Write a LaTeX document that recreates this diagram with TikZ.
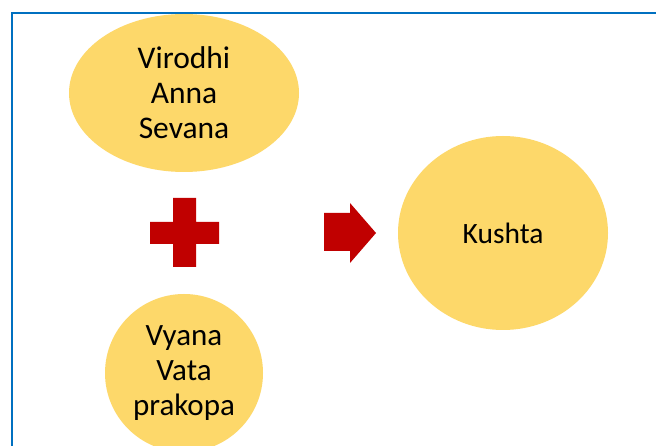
\documentclass[tikz,border=0pt]{standalone}
\usepackage{fontspec}
\setmainfont{Carlito}
\usetikzlibrary{shapes.geometric}
\definecolor{bubble}{HTML}{FDD86A}
\definecolor{sign}{HTML}{C00000}
\definecolor{frame}{HTML}{0070C0}
\tikzset{
  bubblenode/.style={ellipse, fill=bubble, draw=none, inner sep=0pt, align=center, text=black},
  signshape/.style={fill=sign, draw=none}
}
\begin{document}
\begin{tikzpicture}[x=1pt,y=-1pt]
\useasboundingbox (0,0) rectangle (656,446);
\clip (0,0) rectangle (656,446);
\fill[white] (0,0) rectangle (656,446);
\draw[frame, line width=2pt] (12,13) rectangle (670,460);
\node[bubblenode, minimum width=230pt, minimum height=158pt, font=\fontsize{31.5}{35}\selectfont] (virodhi) at (184,93) {Virodhi\\Anna\\Sevana};
\node[bubblenode, minimum width=158pt, minimum height=158pt, font=\fontsize{31}{35}\selectfont] (vyana) at (184,373) {Vyana\\Vata\\prakopa};
\node[bubblenode, minimum width=210pt, minimum height=194pt, font=\fontsize{29.5}{35}\selectfont] (kushta) at (503,233) {Kushta};
\fill[signshape] (173,198) -- (196,198) -- (196,222) -- (219,222) -- (219,244) -- (196,244) -- (196,267) -- (173,267) -- (173,244) -- (150,244) -- (150,222) -- (173,222) -- cycle;
\fill[signshape] (324,213) -- (350,213) -- (350,203) -- (376,233) -- (350,263) -- (350,251) -- (324,251) -- cycle;
\end{tikzpicture}
\end{document}
